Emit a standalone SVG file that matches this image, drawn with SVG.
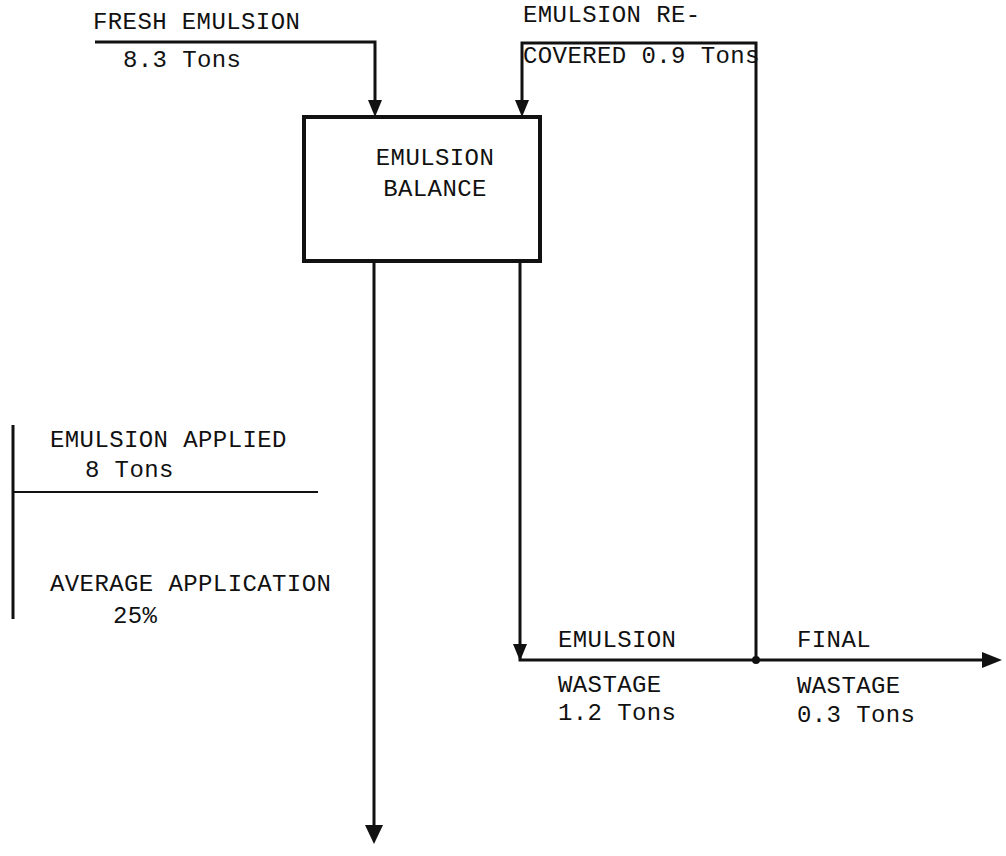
<svg xmlns="http://www.w3.org/2000/svg" width="1006" height="856" viewBox="0 0 1006 856">
<style>
text{font-family:"Liberation Mono","DejaVu Sans Mono",monospace;font-size:24px;letter-spacing:0.4px;fill:#111}
.ln{stroke:#111;stroke-width:3;fill:none}
</style>
<rect width="1006" height="856" fill="#fff"/>
<g id="connectors">
<polyline class="ln" points="95,42 375,42 375,100"/>
<path d="M368,100 L382,100 L375,117 z" fill="#111"/>
<polyline class="ln" points="522,100 522,43 756,43 756,660"/>
<path d="M515,100 L529,100 L522,117 z" fill="#111"/>
<line class="ln" x1="374" y1="261" x2="374" y2="826"/>
<path d="M365,825 L383,825 L374,844 z" fill="#111"/>
<polyline class="ln" points="520,261 520,660 985,660"/>
<path d="M513,644 L527,644 L520,661 z" fill="#111"/>
<path d="M982,652 L1002,660 L982,668 z" fill="#111"/>
<circle cx="756" cy="660" r="4" fill="#111"/>
</g>
<g id="balance">
<rect x="304" y="117" width="236" height="144" fill="none" stroke="#111" stroke-width="4"/>
<text x="435" y="165" text-anchor="middle">EMULSION</text>
<text x="435" y="196" text-anchor="middle">BALANCE</text>
</g>
<g id="fresh">
<text x="93" y="29">FRESH EMULSION</text>
<text x="123" y="67">8.3 Tons</text>
</g>
<g id="recovered">
<text x="523" y="22">EMULSION RE-</text>
<text x="523" y="63">COVERED 0.9 Tons</text>
</g>
<g id="applied">
<line x1="13" y1="425" x2="13" y2="619" stroke="#111" stroke-width="3"/>
<line x1="13" y1="492" x2="318" y2="492" stroke="#111" stroke-width="2"/>
<text x="50" y="447">EMULSION APPLIED</text>
<text x="85" y="477">8 Tons</text>
<text x="50" y="591">AVERAGE APPLICATION</text>
<text x="113" y="623">25%</text>
</g>
<g id="wastage">
<text x="558" y="647">EMULSION</text>
<text x="558" y="692">WASTAGE</text>
<text x="558" y="720">1.2 Tons</text>
</g>
<g id="final">
<text x="797" y="647">FINAL</text>
<text x="797" y="693">WASTAGE</text>
<text x="797" y="722">0.3 Tons</text>
</g>
</svg>
